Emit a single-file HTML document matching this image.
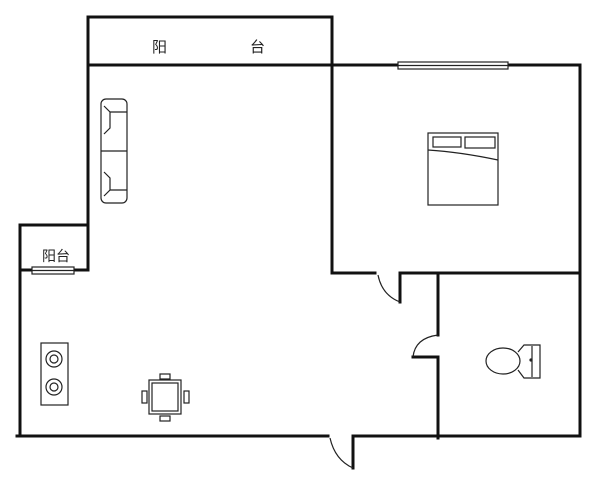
<!DOCTYPE html>
<html><head><meta charset="utf-8"><style>
html,body{margin:0;padding:0;background:#fff;width:600px;height:482px;overflow:hidden}
text{font-family:"Liberation Sans","Noto Sans CJK SC",sans-serif;fill:#222}
</style></head><body>
<svg width="600" height="482" viewBox="0 0 600 482" xmlns="http://www.w3.org/2000/svg">
<g stroke="#111" stroke-width="3" fill="none" stroke-linecap="square">
<!-- top balcony -->
<polyline points="88,65 88,17 332,17 332,65"/>
<line x1="88" y1="65" x2="398" y2="65"/>
<line x1="508" y1="65" x2="580" y2="65"/>
<line x1="580" y1="65" x2="580" y2="436"/>
<line x1="332" y1="65" x2="332" y2="273"/>
<line x1="332" y1="273" x2="375" y2="273"/>
<line x1="400" y1="273" x2="578" y2="273"/>
<line x1="400" y1="273" x2="400" y2="302"/>
<!-- small balcony -->
<polyline points="88,65 88,270 74,270"/>
<polyline points="88,225 20,225 20,436"/>
<line x1="20" y1="270" x2="32" y2="270"/>
<!-- bottom -->
<line x1="17" y1="436" x2="328" y2="436"/>
<line x1="353" y1="436" x2="580" y2="436"/>
<line x1="353" y1="436" x2="353" y2="468"/>
<!-- bathroom wall -->
<line x1="438" y1="273" x2="438" y2="335"/>
<line x1="438" y1="357" x2="438" y2="438"/>
<line x1="413" y1="357" x2="438" y2="357"/>
</g>
<g stroke="#222" stroke-width="1.2" fill="none">
<path d="M378,275 Q382,295 400,302"/>
<path d="M413,357 Q415,338 438,335"/>
<path d="M330,438 Q335,460 353,468"/>
<!-- windows -->
<rect x="398" y="62" width="110" height="7" fill="#fff"/>
<line x1="398" y1="65.5" x2="508" y2="65.5"/>
<rect x="32" y="267" width="42" height="7" fill="#fff"/>
<line x1="32" y1="270.5" x2="74" y2="270.5"/>
<!-- sofa -->
<rect x="101" y="99" width="26" height="104" rx="5"/>
<line x1="101" y1="151" x2="127" y2="151"/>
<path d="M104,106 L110,112 L110,128 L104,134"/>
<path d="M104,172 L110,178 L110,190 L104,196"/>
<line x1="110" y1="112" x2="127" y2="112"/><line x1="110" y1="190" x2="127" y2="190"/>
<!-- bed -->
<rect x="428" y="133" width="70" height="72"/>
<rect x="433" y="137" width="28" height="10"/>
<rect x="465" y="137" width="30" height="11"/>
<path d="M428,150 Q460,152 498,160"/>
<!-- stove -->
<rect x="41" y="343" width="27" height="62"/>
<circle cx="54" cy="359" r="8"/><circle cx="54" cy="359" r="4"/>
<circle cx="54" cy="387" r="8"/><circle cx="54" cy="387" r="4"/>
<!-- table -->
<rect x="149" y="380" width="32" height="34"/>
<rect x="152" y="383" width="26" height="28"/>
<rect x="160" y="374" width="10" height="5"/><rect x="160" y="416" width="10" height="5"/>
<rect x="142" y="391" width="5" height="12"/><rect x="184" y="391" width="5" height="12"/>
<!-- toilet -->
<ellipse cx="503" cy="361" rx="17" ry="13"/>
<path d="M518,352 L524,345 L540,345 L540,378 L524,378 L518,370"/>
<line x1="532" y1="346" x2="532" y2="377"/>
<circle cx="531" cy="360" r="1" fill="#222"/>
</g>
<text x="152" y="52" font-size="15">阳</text>
<text x="250" y="52" font-size="15">台</text>
<text x="42" y="261" font-size="14">阳台</text>
</svg>
</body></html>
